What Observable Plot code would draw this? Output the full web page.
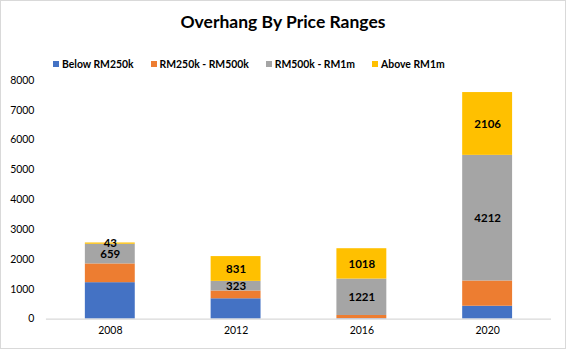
<!DOCTYPE html>
<html>
<head>
<meta charset="utf-8">
<script src="https://cdn.jsdelivr.net/npm/d3@7"></script>
<script src="https://cdn.jsdelivr.net/npm/@observablehq/plot@0.6"></script>
<style>
  html, body { margin: 0; padding: 0; background: #fff; }
  #wrap { position: relative; width: 566px; height: 349px; box-sizing: border-box; border: 1px solid #d9d9d9; background: #fff; font-family: Lato, "Open Sans", sans-serif; overflow: hidden; }
  #title { position: absolute; left: 0; right: 0; top: 10px; text-align: center; font-weight: bold; font-size: 17.5px; color: #000; }
  #legend { position: absolute; left: 52px; top: 57px; display: flex; gap: 17px; font-size: 10.4px; font-weight: bold; color: #000; }
  #legend .item { display: flex; align-items: center; gap: 3px; }
  #legend .sw { width: 6px; height: 6px; display: inline-block; }
  #chart { position: absolute; left: -1px; top: 69px; }
</style>
</head>
<body>
<div id="wrap">
  <div id="title">Overhang By Price Ranges</div>
  <div id="legend"></div>
  <div id="chart"></div>
</div>
<script>
const years = ["2008", "2012", "2016", "2020"];
const seriesNames = ["Below RM250k", "RM250k - RM500k", "RM500k - RM1m", "Above RM1m"];
const below250k = [1220, 680, 15, 430];
const rm250kTo500k = [629, 261, 105, 847];
const rm500kTo1m = [659, 323, 1221, 4212];
const above1m = [43, 831, 1018, 2106];
const labeledSeries = ["RM500k - RM1m", "Above RM1m"];
const yTicks = [0, 1000, 2000, 3000, 4000, 5000, 6000, 7000, 8000];
const colors = ["#4472C4", "#ED7D31", "#A5A5A5", "#FFC000"];

const seriesValues = [below250k, rm250kTo500k, rm500kTo1m, above1m];
const data = [];
seriesNames.forEach((s, si) => {
  years.forEach((y, yi) => data.push({year: y, series: s, value: seriesValues[si][yi]}));
});

// legend
const legend = document.getElementById("legend");
seriesNames.forEach((s, i) => {
  const it = document.createElement("div");
  it.className = "item";
  const sw = document.createElement("span");
  sw.className = "sw";
  sw.style.background = colors[i];
  const t = document.createElement("span");
  t.textContent = s;
  it.appendChild(sw); it.appendChild(t);
  legend.appendChild(it);
});

const chart = Plot.plot({
  width: 566,
  height: 274,
  marginTop: 10,
  marginBottom: 25,
  marginLeft: 46,
  marginRight: 14,
  style: {fontFamily: "Lato, 'Open Sans', sans-serif", fontSize: "10.5px", color: "#000", background: "transparent"},
  x: {domain: years, paddingInner: 0.6, paddingOuter: 0.3, label: null, tickSize: 0, tickPadding: 8},
  y: {domain: [0, 8000], ticks: yTicks, label: null, tickSize: 0, tickPadding: 12, tickFormat: d => String(d)},
  color: {domain: seriesNames, range: colors},
  marks: [
    Plot.barY(data, Plot.stackY({x: "year", y: "value", fill: "series", order: seriesNames})),
    Plot.ruleY([0], {stroke: "#d9d9d9", strokeWidth: 1.2}),
    Plot.text(data, Plot.stackY({
      x: "year", y: "value", z: "series", order: seriesNames,
      text: d => labeledSeries.includes(d.series) ? String(d.value) : "",
      fill: "#000", fontWeight: "bold", fontSize: 11.5
    }))
  ]
});
document.getElementById("chart").appendChild(chart);
</script>
</body>
</html>
